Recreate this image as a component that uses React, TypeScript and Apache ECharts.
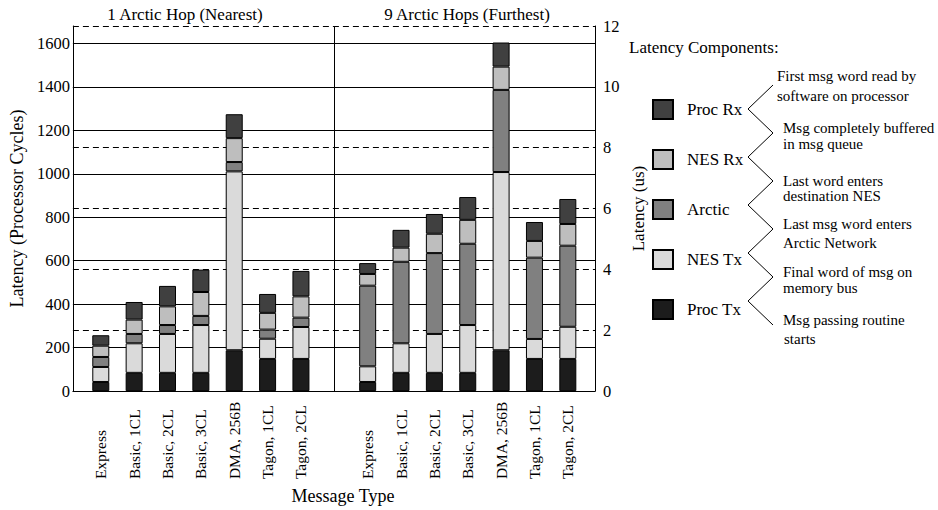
import React, { useEffect, useRef } from "react";
import * as echarts from "echarts";

// ---- Data ----
const categories = ["Express", "Basic, 1CL", "Basic, 2CL", "Basic, 3CL", "DMA, 256B", "Tagon, 1CL", "Tagon, 2CL"];
const groupTitles = ["1 Arctic Hop (Nearest)", "9 Arctic Hops (Furthest)"];
const groupStart = [0, 8]; // slot where each group begins on the x scale

const componentNames = ["Proc Tx", "NES Tx", "Arctic", "NES Rx", "Proc Rx"];
const componentColors = ["#1c1c1c", "#dadada", "#808080", "#bebebe", "#404040"];
const legendOrder = ["Proc Rx", "NES Rx", "Arctic", "NES Tx", "Proc Tx"];

// 1 Arctic hop (processor cycles)
const procTx1 = [42, 84, 84, 84, 188, 148, 148];
const nesTx1 = [69, 136, 179, 220, 823, 93, 147];
const arctic1 = [46, 43, 41, 42, 43, 42, 43];
const nesRx1 = [52, 66, 86, 110, 110, 77, 98];
const procRx1 = [48, 81, 94, 103, 110, 87, 117];

// 9 Arctic hops (processor cycles)
const procTx9 = [42, 84, 84, 84, 188, 148, 148];
const nesTx9 = [72, 136, 179, 220, 820, 92, 148];
const arctic9 = [371, 375, 372, 374, 378, 374, 373];
const nesRx9 = [54, 65, 89, 110, 107, 77, 100];
const procRx9 = [50, 82, 91, 105, 111, 87, 115];

const hop1 = [procTx1, nesTx1, arctic1, nesRx1, procRx1];
const hop9 = [procTx9, nesTx9, arctic9, nesRx9, procRx9];

const cyclesMax = 1680;
const cyclesInterval = 200;
const usMax = 12;
const usInterval = 2;

const annotationLines = [
  ["First msg word read by", "software on processor"],
  ["Msg completely buffered", "in msg queue"],
  ["Last word enters", "destination NES"],
  ["Last msg word enters", "Arctic Network"],
  ["Final word of msg on", "memory bus"],
  ["Msg passing routine", "starts"],
];

const FONT = "'Liberation Serif', 'DejaVu Serif', serif";

export default function App() {
  const ref = useRef<HTMLDivElement>(null);

  useEffect(() => {
    if (!ref.current) return;
    const chart = echarts.init(ref.current, undefined, { renderer: "svg" });

    const labelPositions: number[] = [];
    groupStart.forEach((g) => categories.forEach((_, i) => labelPositions.push(g + i)));

    // data rows are [value, slot]; value first so it is the stacked dimension
    const series: any[] = componentNames.map((name, c) => {
      const data: number[][] = [];
      hop1[c].forEach((v, i) => data.push([v, groupStart[0] + i]));
      hop9[c].forEach((v, i) => data.push([v, groupStart[1] + i]));
      const s: any = {
        name,
        type: "bar",
        stack: "total",
        barWidth: 17,
        encode: { x: 1, y: 0 },
        data,
        itemStyle: { color: componentColors[c], borderColor: "#000", borderWidth: 1 },
      };
      if (c === 0) {
        s.markLine = {
          silent: true,
          symbol: "none",
          label: { show: false },
          lineStyle: { color: "#000", width: 1, type: "solid" },
          data: [{ xAxis: (groupStart[0] + categories.length - 1 + groupStart[1]) / 2 }],
        };
      }
      return s;
    });

    // decorative zigzag connector in the legend area
    const zig: number[][] = [];
    for (let k = 0; k <= 10; k++) {
      zig.push([k % 2 === 0 ? 773 : 748, 85 + k * 24]);
    }

    const annotationY = [[76, 96], [128, 144], [181, 196], [224, 243], [272, 288], [320, 339]];
    const annotationX = [777, 783, 783, 783, 783, 783];
    const graphics: any[] = [
      {
        type: "text",
        x: 185,
        y: 14,
        style: { text: groupTitles[0], font: `17px ${FONT}`, fill: "#000", textAlign: "center", textVerticalAlign: "middle" },
      },
      {
        type: "text",
        x: 467,
        y: 14,
        style: { text: groupTitles[1], font: `17px ${FONT}`, fill: "#000", textAlign: "center", textVerticalAlign: "middle" },
      },
      {
        type: "text",
        x: 629,
        y: 47,
        style: { text: "Latency Components:", font: `17px ${FONT}`, fill: "#000", textAlign: "left", textVerticalAlign: "middle" },
      },
      {
        type: "polyline",
        shape: { points: zig },
        style: { stroke: "#000", lineWidth: 1, fill: null },
      },
    ];
    annotationLines.forEach((lines, k) => {
      lines.forEach((t, j) => {
        graphics.push({
          type: "text",
          x: annotationX[k] + (k === 5 && j === 1 ? 1 : 0),
          y: annotationY[k][j],
          style: { text: t, font: `15px ${FONT}`, fill: "#000", textAlign: "left", textVerticalAlign: "middle" },
        });
      });
    });

    chart.setOption({
      animation: false,
      textStyle: { fontFamily: FONT, color: "#000" },
      grid: { left: 71, right: 343, top: 26, bottom: 118.5, containLabel: false },
      legend: {
        orient: "vertical",
        left: 652,
        top: 99,
        padding: 0,
        itemWidth: 20,
        itemHeight: 19,
        itemGap: 29,
        icon: "rect",
        data: legendOrder,
        selectedMode: false,
        textStyle: { fontSize: 17, color: "#000", fontFamily: FONT, padding: [0, 0, 0, 9] },
      },
      xAxis: {
        type: "value",
        min: -0.836,
        max: 14.815,
        splitLine: { show: false },
        axisTick: { show: false },
        axisLine: { show: true, onZero: false, lineStyle: { color: "#000", width: 1 } },
        axisLabel: {
          customValues: labelPositions,
          formatter: (v: number) => categories[Math.round(v) % 8] ?? "",
          rotate: 90,
          align: "left",
          verticalAlign: "middle",
          margin: 88,
          fontSize: 15.5,
          color: "#000",
          fontFamily: FONT,
        },
        name: "Message Type",
        nameLocation: "middle",
        nameGap: 95,
        nameTextStyle: { fontSize: 18, color: "#000", fontFamily: FONT, padding: [0, 0, 0, 18], verticalAlign: "top" },
      },
      yAxis: [
        {
          type: "value",
          min: 0,
          max: cyclesMax,
          interval: cyclesInterval,
          position: "left",
          axisLine: { show: true, onZero: false, lineStyle: { color: "#000", width: 1 } },
          axisTick: { show: false },
          axisLabel: {
            margin: 3,
            fontSize: 16.5,
            color: "#000",
            fontFamily: FONT,
            showMaxLabel: false,
            formatter: (v: number) => String(v),
          },
          splitLine: { show: true, showMinLine: false, showMaxLine: false, lineStyle: { color: "#000", width: 1, type: "solid" } },
          name: "Latency (Processor Cycles)",
          nameLocation: "middle",
          nameGap: 42,
          nameTextStyle: { fontSize: 18, color: "#000", fontFamily: FONT },
        },
        {
          type: "value",
          min: 0,
          max: usMax,
          interval: usInterval,
          position: "right",
          axisLine: { show: true, onZero: false, lineStyle: { color: "#000", width: 1 } },
          axisTick: { show: false },
          axisLabel: { margin: 8, fontSize: 16.5, color: "#000", fontFamily: FONT },
          splitLine: { show: true, showMinLine: false, lineStyle: { color: "#000", width: 1, type: [6, 4] } },
          name: "Latency (us)",
          nameLocation: "middle",
          nameGap: 21,
          nameTextStyle: { fontSize: 17, color: "#000", fontFamily: FONT },
        },
      ],
      series,
      graphic: graphics,
    });

    return () => chart.dispose();
  }, []);

  return (
    <div
      ref={ref}
      style={{ position: "absolute", left: 0, top: 0, width: 938, height: 510, background: "#fff" }}
    />
  );
}
